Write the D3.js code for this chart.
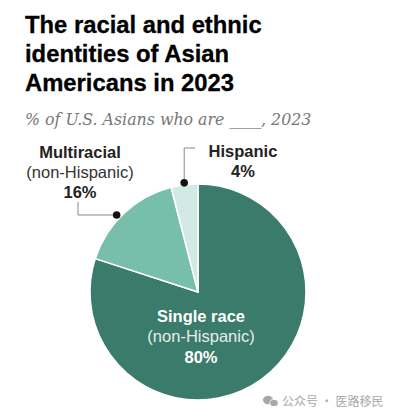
<!DOCTYPE html>
<html>
<head>
<meta charset="utf-8">
<script src="https://d3js.org/d3.v7.min.js"></script>
<style>
  body { margin: 0; background: #fff; }
  svg text { font-family: "Liberation Sans", Arial, sans-serif; }
</style>
</head>
<body>
<script>
// chart data
var categories = ["Single race", "Multiracial", "Hispanic"];
var qualifiers = ["(non-Hispanic)", "(non-Hispanic)", ""];
var shares = [80, 16, 4];
var colors = ["#3b7b6b", "#77bfab", "#d3e9e3"];

var width = 393, height = 417;
var svg = d3.select("body").append("svg")
    .attr("width", width)
    .attr("height", height);

// title + subtitle
var titleLines = ["The racial and ethnic", "identities of Asian", "Americans in 2023"];
svg.selectAll("text.title")
    .data(titleLines)
  .enter().append("text")
    .attr("class", "title")
    .attr("x", 25)
    .attr("y", function (d, i) { return 33 + i * 29; })
    .style("font-size", "23.8px")
    .style("font-weight", "bold")
    .style("fill", "#000")
    .style("stroke", "#000")
    .style("stroke-width", 0.3)
    .text(function (d) { return d; });

svg.append("text")
    .attr("x", 25)
    .attr("y", 125)
    .style("font-family", "'DejaVu Serif', Georgia, serif")
    .style("font-style", "italic")
    .style("font-size", "15.8px")
    .style("fill", "#777")
    .text("% of U.S. Asians who are ____, 2023");

// pie
var cx = 198, cy = 292, r = 108;
var pie = d3.pie().sort(null).value(function (d) { return d.v; });
var arc = d3.arc().innerRadius(0).outerRadius(r);
var rows = categories.map(function (c, i) { return { c: c, v: shares[i], i: i }; });
var arcs = pie(rows);

var g = svg.append("g").attr("transform", "translate(" + cx + "," + cy + ")");
g.selectAll("path")
    .data(arcs)
  .enter().append("path")
    .attr("d", arc)
    .style("fill", function (d) { return colors[d.data.i]; })
    .style("stroke", "#fff")
    .style("stroke-width", 1.5);

// label inside the big slice
var inner = svg.append("g").attr("transform", "translate(201,0)");
inner.append("text").attr("y", 322).attr("text-anchor", "middle")
    .style("font-size", "16.5px").style("font-weight", "bold").style("fill", "#fff")
    .text(categories[0]);
inner.append("text").attr("y", 342).attr("text-anchor", "middle")
    .style("font-size", "16.5px").style("fill", "#e6eeeb")
    .text(qualifiers[0]);
inner.append("text").attr("y", 363).attr("text-anchor", "middle")
    .style("font-size", "16.5px").style("font-weight", "bold").style("fill", "#fff")
    .text(shares[0] + "%");

// outside labels with leader lines
function outside(i, x, y0, linePts) {
  var lg = svg.append("g");
  var y = y0;
  lg.append("text").attr("x", x).attr("y", y).attr("text-anchor", "middle")
      .style("font-size", "16.5px").style("font-weight", "bold").style("fill", "#222")
      .text(categories[i]);
  if (qualifiers[i]) {
    y += 20;
    lg.append("text").attr("x", x).attr("y", y).attr("text-anchor", "middle")
        .style("font-size", "16.5px").style("fill", "#333")
        .text(qualifiers[i]);
  }
  y += 20;
  lg.append("text").attr("x", x).attr("y", y).attr("text-anchor", "middle")
      .style("font-size", "16.5px").style("font-weight", "bold").style("fill", "#222")
      .text(shares[i] + "%");
  lg.append("path")
      .attr("d", d3.line()(linePts))
      .style("fill", "none").style("stroke", "#888").style("stroke-width", 1);
  var end = linePts[linePts.length - 1];
  lg.append("circle").attr("cx", end[0]).attr("cy", end[1]).attr("r", 3.8).style("fill", "#111");
}

// dots sit on the rim of their slice
var yMulti = 215;
var xMulti = cx - Math.sqrt((r + 4) * (r + 4) - (cy - yMulti) * (cy - yMulti));
var aH = (arcs[2].startAngle + arcs[2].endAngle) / 2;
var pHisp = [cx + Math.sin(aH) * (r + 2), cy - Math.cos(aH) * (r + 2)];

outside(1, 80, 158, [[78, 202], [78, yMulti], [xMulti, yMulti]]);
outside(2, 243, 157, [[195, 148], [pHisp[0], 148], [pHisp[0], pHisp[1]]]);

// watermark
var wm = svg.append("g").style("fill", "#a8a8a8");
wm.append("ellipse").attr("cx", 268).attr("cy", 400).attr("rx", 5).attr("ry", 4.2);
wm.append("ellipse").attr("cx", 274).attr("cy", 403).attr("rx", 4.2).attr("ry", 3.6).style("stroke", "#fff").style("stroke-width", 0.8);
wm.append("text").attr("x", 282).attr("y", 406)
    .style("font-family", "'Noto Sans CJK SC', sans-serif")
    .style("font-size", "12px")
    .text("公众号 · 医路移民");
</script>
</body>
</html>
